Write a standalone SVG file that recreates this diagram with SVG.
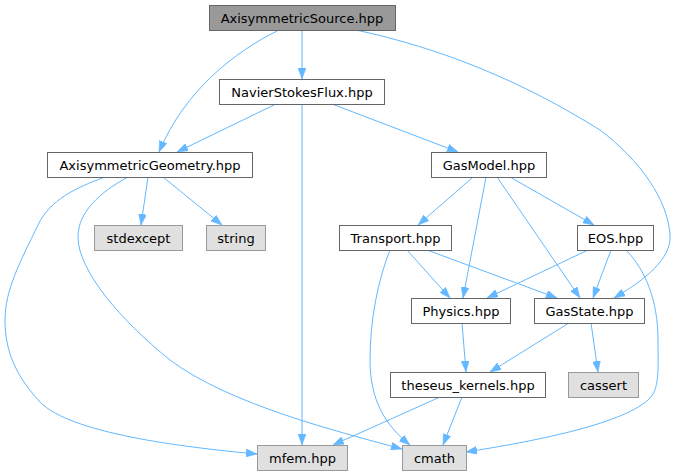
<svg xmlns="http://www.w3.org/2000/svg" width="676" height="476" viewBox="0 0 676 476">
<style>
.n rect{fill:#ffffff;stroke:#666666;stroke-width:1}
.n.top rect{fill:#999999;stroke:#666666}
.n.ext rect{fill:#e0e0e0;stroke:#999999}
.n text{font-family:"DejaVu Sans",sans-serif;font-size:13px;fill:#000000;text-anchor:middle}
#edges path{fill:none;stroke:#63b8ff;stroke-width:1;marker-end:url(#ah)}
</style>
<defs>
<marker id="ah" viewBox="0 0 11 8" refX="11" refY="4" markerWidth="11" markerHeight="8" markerUnits="userSpaceOnUse" orient="auto">
<path d="M0,0 L11,4 L0,8 z" fill="#63b8ff" stroke="#63b8ff" stroke-width="0.5"/>
</marker>
</defs>
<rect width="676" height="476" fill="#ffffff"/>
<g id="edges">
<path d="M277,31 C235,52 185,90 159,152"/>
<path d="M302,30 L302,79"/>
<path d="M356,30 C440,48 520,80 600,130 C640,160 668,200 670,235 C672,258 645,280 614,298"/>
<path d="M276,104 L177,152"/>
<path d="M302,104 L302,445"/>
<path d="M332,104 L458,152"/>
<path d="M105,177 C75,188 50,200 38,225 C20,262 5,290 5,320 C5,350 15,375 40,402 C70,433 180,447 257,454"/>
<path d="M128,177 C100,192 78,212 78,237 C78,270 120,320 170,360 C230,405 340,432 402,449"/>
<path d="M148,177 L141,225"/>
<path d="M163,177 L222,225"/>
<path d="M473,177 L418,225"/>
<path d="M486,177 L463,298"/>
<path d="M497,177 L580,298"/>
<path d="M510,177 L594,225"/>
<path d="M407,250 L450,298"/>
<path d="M427,250 L557,298"/>
<path d="M390,250 C378,280 370,320 370,360 C370,400 385,425 410,445"/>
<path d="M588,250 L487,298"/>
<path d="M611,250 L593,298"/>
<path d="M627,251 C645,270 658,300 658,340 C658,370 660,390 648,400 C620,425 530,442 466,452"/>
<path d="M462,323 L466,372"/>
<path d="M569,323 L490,372"/>
<path d="M591,323 L598,372"/>
<path d="M440,397 L333,445"/>
<path d="M462,397 L443,445"/>
</g>
<g id="AxisymmetricSource" class="n top"><rect x="209.5" y="5.5" width="186" height="25"/><text x="302" y="22.5">AxisymmetricSource.hpp</text></g>
<g id="NavierStokesFlux" class="n"><rect x="219.5" y="79.5" width="165" height="25"/><text x="302" y="96.5">NavierStokesFlux.hpp</text></g>
<g id="AxisymmetricGeometry" class="n"><rect x="47.5" y="152.5" width="205" height="25"/><text x="150" y="169.5">AxisymmetricGeometry.hpp</text></g>
<g id="stdexcept" class="n ext"><rect x="94.5" y="225.5" width="88" height="25"/><text x="138.5" y="242.5">stdexcept</text></g>
<g id="string" class="n ext"><rect x="206.5" y="225.5" width="59" height="25"/><text x="236" y="242.5">string</text></g>
<g id="GasModel" class="n"><rect x="431.5" y="152.5" width="115" height="25"/><text x="489" y="169.5">GasModel.hpp</text></g>
<g id="Transport" class="n"><rect x="339.5" y="225.5" width="112" height="25"/><text x="395.5" y="242.5">Transport.hpp</text></g>
<g id="EOS" class="n"><rect x="577.5" y="225.5" width="76" height="25"/><text x="615.5" y="242.5">EOS.hpp</text></g>
<g id="Physics" class="n"><rect x="411.5" y="298.5" width="99" height="25"/><text x="461" y="315.5">Physics.hpp</text></g>
<g id="GasState" class="n"><rect x="534.5" y="298.5" width="110" height="25"/><text x="589.5" y="315.5">GasState.hpp</text></g>
<g id="theseus_kernels" class="n"><rect x="390.5" y="372.5" width="155" height="25"/><text x="468" y="389.5">theseus_kernels.hpp</text></g>
<g id="cassert" class="n ext"><rect x="568.5" y="372.5" width="70" height="25"/><text x="603.5" y="389.5">cassert</text></g>
<g id="mfem" class="n ext"><rect x="257.5" y="445.5" width="90" height="25"/><text x="302.5" y="462.5">mfem.hpp</text></g>
<g id="cmath" class="n ext"><rect x="402.5" y="445.5" width="64" height="25"/><text x="434.5" y="462.5">cmath</text></g>
</svg>
